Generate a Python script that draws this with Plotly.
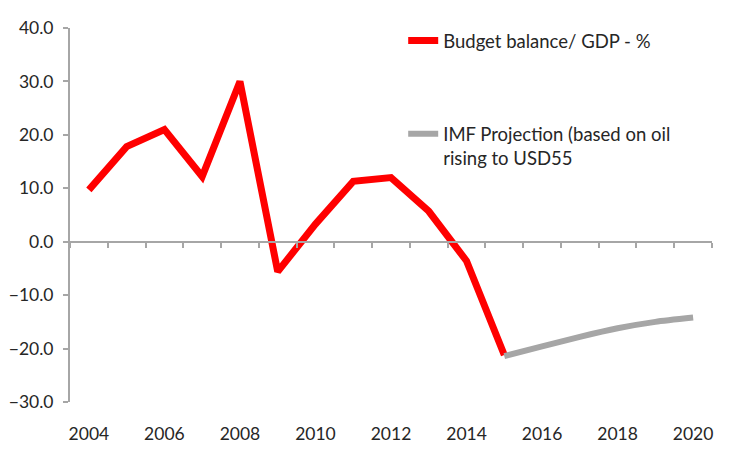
import plotly.graph_objects as go

# Budget balance as % of GDP
years = [2004, 2005, 2006, 2007, 2008, 2009, 2010, 2011, 2012, 2013, 2014, 2015]
balance = [9.7, 17.8, 21.0, 12.2, 30.0, -5.6, 3.3, 11.3, 12.0, 5.7, -3.6, -21.2]

proj_years = [2015, 2016, 2017, 2018, 2019, 2020]
proj_balance = [-21.4, -19.6, -17.8, -16.2, -15.0, -14.2]

label_years = [2004, 2006, 2008, 2010, 2012, 2014, 2016, 2018, 2020]

AXIS_GREY = '#a6a6a6'
TEXT = '#262626'
FONT = 'Lato, Open Sans, sans-serif'
FONT_SIZE = 17.5
LEGEND_SIZE = 18.5

fig = go.Figure()

fig.add_trace(go.Scatter(
    x=years, y=balance,
    mode='lines',
    name='Budget balance/ GDP - %',
    line=dict(color='#ff0000', width=7),
    legend='legend'
))

fig.add_trace(go.Scatter(
    x=proj_years, y=proj_balance,
    mode='lines',
    name='IMF Projection (based on oil<br>rising to USD55',
    line=dict(color='#a6a6a6', width=6, shape='spline', smoothing=0.6),
    legend='legend2'
))

x_range = [2003.5, 2020.5]
y_range = [-30, 40]

# page body adds an 8px offset, so the figure is drawn 8px smaller
fig.update_layout(
    width=742, height=445,
    paper_bgcolor='white',
    plot_bgcolor='white',
    showlegend=True,
    font=dict(family=FONT, size=FONT_SIZE, color=TEXT),
    margin=dict(l=62, r=38, t=20, b=51, autoexpand=False),
    xaxis=dict(
        range=x_range,
        tickvals=label_years,
        showline=False, showgrid=False, zeroline=False,
        ticks='', ticklabelstandoff=19, automargin=False,
    ),
    # axis line with the year ticks sits on the zero line
    xaxis2=dict(
        range=x_range,
        overlaying='x', anchor='free',
        position=(0 - y_range[0]) / (y_range[1] - y_range[0]),
        tick0=2003.5, dtick=1,
        showticklabels=False, showgrid=False, zeroline=False,
        showline=True, linecolor=AXIS_GREY, linewidth=2,
        ticks='outside', ticklen=5, tickwidth=2, tickcolor=AXIS_GREY,
        automargin=False,
    ),
    yaxis=dict(
        range=y_range, dtick=10, tickformat='.1f',
        showgrid=False, zeroline=False,
        showline=True, linecolor=AXIS_GREY, linewidth=2,
        ticks='outside', ticklen=5, tickwidth=2, tickcolor=AXIS_GREY,
        ticklabelstandoff=6, automargin=False,
    ),
    legend=dict(
        x=0.519, y=1.016, xanchor='left', yanchor='top',
        bgcolor='rgba(0,0,0,0)', font=dict(size=LEGEND_SIZE, color=TEXT),
    ),
    legend2=dict(
        x=0.519, y=0.767, xanchor='left', yanchor='top', valign='top',
        bgcolor='rgba(0,0,0,0)', font=dict(size=LEGEND_SIZE, color=TEXT),
    ),
)

# dummy trace so the overlaying zero-line axis gets drawn
fig.add_trace(go.Scatter(x=[], y=[], xaxis='x2', showlegend=False, hoverinfo='skip'))

fig.write_html('out.html')
